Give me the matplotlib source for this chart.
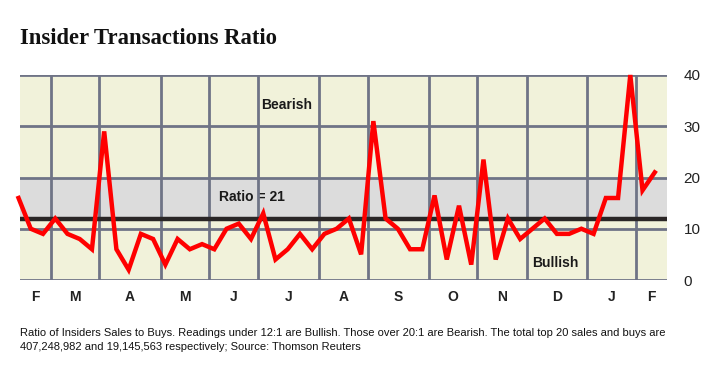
import numpy as np
from matplotlib import pyplot as plt

# weekly ratio of insider sales to buys
ratio = [16, 10, 9, 12, 9, 8, 6, 29, 6, 2, 9, 8, 3, 8, 6, 7, 6, 10, 11, 8, 13, 4,
         6, 9, 6, 9, 10, 12, 5, 31, 12, 10, 6, 6, 16.5, 4, 14.5, 3, 23.5, 4, 12,
         8, 10, 12, 9, 9, 10, 9, 16, 16, 40, 17.5, 21]
weeks = np.arange(len(ratio))

# month boundaries, in weeks from the first reading
month_edges = [2.66, 6.58, 11.65, 15.58, 19.58, 24.57, 28.57, 33.56, 37.49, 41.58, 46.49, 50.5]
month_labels = ["F", "M", "A", "M", "J", "J", "A", "S", "O", "N", "D", "J", "F"]
y_ticks = [0, 10, 20, 30, 40]
bullish_level = 12
bearish_level = 20

x_start, x_end = 0.12, 53.0
grid_color = "#6f7486"

fig = plt.figure(figsize=(7.2, 3.68), dpi=100)
ax = fig.add_axes([20 / 720, 88 / 368, 647 / 720, 205 / 368])
ax.set_xlim(x_start, x_end)
ax.set_ylim(0, 40)
ax.set_facecolor("#f1f2da")

ax.axhspan(bullish_level, bearish_level, color="#dcdcdc", zorder=0)
for y in y_ticks:
    ax.axhline(y, color=grid_color, lw=2, zorder=1)
for x in month_edges:
    ax.axvline(x, color=grid_color, lw=2, zorder=1)
ax.axhline(bullish_level, color="#2a2626", lw=3.2, zorder=2)

ax.plot(weeks, ratio, color="#ff0000", lw=3.2, solid_joinstyle="miter", zorder=3, clip_on=False)

label_font = dict(fontsize=10, fontweight="bold", ha="center", va="center", color="#1a1a1a",
                  family="Liberation Sans")
ax.text(21.95, 34.2, "Bearish", zorder=2, **label_font)
ax.text(19.1, 16.2, "Ratio = 21", zorder=0.5, **label_font)
ax.text(43.9, 3.4, "Bullish", zorder=2, **label_font)

for s in ax.spines.values():
    s.set_visible(False)

edges = [x_start] + month_edges + [x_end]
centers = [(a + b) / 2 for a, b in zip(edges[:-1], edges[1:])]
ax.set_xticks(centers)
ax.set_xticklabels(month_labels, fontsize=10, fontweight="bold", color="#222222", family="Liberation Sans")
ax.tick_params(axis="x", length=0, pad=7)

ax.yaxis.tick_right()
ax.set_yticks(y_ticks)
ax.set_yticklabels([str(v) for v in y_ticks], fontsize=11, color="#222222", family="Liberation Sans")
ax.tick_params(axis="y", length=0, pad=12)

fig.text(20 / 720, 1 - 38 / 368, "Insider Transactions Ratio", fontsize=16.3, fontweight="bold",
         family="Liberation Serif", va="center", ha="left", color="#111111")

note = ("Ratio of Insiders Sales to Buys. Readings under 12:1 are Bullish. Those over 20:1 are Bearish. "
        "The total top 20 sales and buys are\n407,248,982 and 19,145,563 respectively; Source: Thomson Reuters")
fig.text(20 / 720, 1 - 328 / 368, note, fontsize=8.0, family="Liberation Sans",
         va="top", ha="left", color="#111111", linespacing=1.45)

fig.savefig("out.png", dpi=100)
